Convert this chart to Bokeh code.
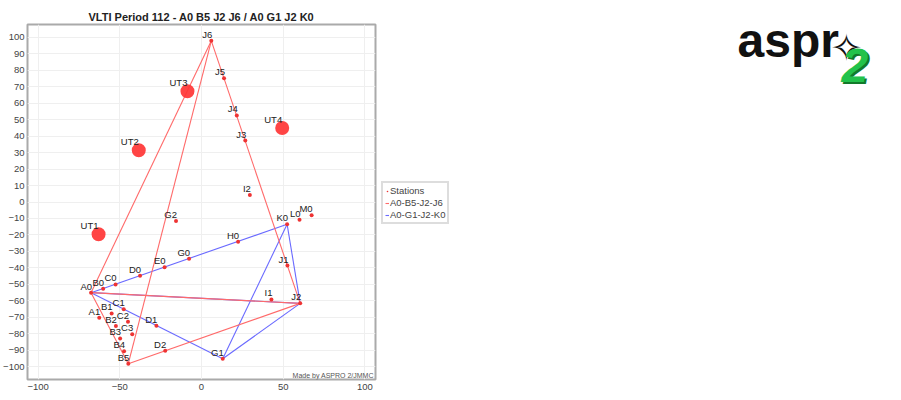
from bokeh.plotting import figure
from bokeh.layouts import row
from bokeh.models import ColumnDataSource, FixedTicker, Legend, LegendItem, Label, Range1d
from bokeh.embed import file_html
from bokeh.resources import INLINE
from bokeh.core.properties import value

# ---------------- data ----------------
title_text = "VLTI Period 112 - A0 B5 J2 J6 / A0 G1 J2 K0"

station_names = ["A0", "A1", "B0", "B1", "B2", "B3", "B4", "B5", "C0", "C1", "C2", "C3",
                 "D0", "D1", "D2", "E0", "G0", "G1", "G2", "H0", "I1", "I2",
                 "J1", "J2", "J3", "J4", "J5", "J6", "K0", "L0", "M0"]
station_x = [-67.6, -62.6, -60.2, -55.0, -52.4, -49.8, -47.4, -44.8, -52.6, -47.6, -45.0, -42.4,
             -37.6, -27.6, -22.2, -22.6, -7.6, 13.0, -15.6, 22.4, 42.8, 29.6,
             52.6, 60.4, 26.8, 21.6, 13.8, 6.0, 52.4, 60.0, 67.4]
station_y = [-55.0, -70.2, -52.6, -67.6, -75.3, -82.8, -90.5, -98.1, -50.0, -65.1, -72.6, -80.3,
             -44.7, -75.1, -90.2, -39.6, -34.4, -95.1, -11.5, -24.1, -59.1, 4.3,
             -38.6, -61.5, 37.3, 52.5, 75.1, 97.8, -13.5, -10.7, -8.1]

ut_names = ["UT1", "UT2", "UT3", "UT4"]
ut_x = [-63.0, -38.4, -8.6, 49.4]
ut_y = [-19.6, 31.4, 67.2, 44.9]

config_names = ["A0-B5-J2-J6", "A0-G1-J2-K0"]
config_stations = [["A0", "B5", "J2", "J6"], ["A0", "G1", "J2", "K0"]]
config_colors = ["#ff6a6a", "#6a6aff"]

x_ticks = [-100, -50, 0, 50, 100]
y_ticks = [-100, -90, -80, -70, -60, -50, -40, -30, -20, -10, 0, 10, 20, 30, 40, 50, 60, 70, 80, 90, 100]

credit_text = "Made by ASPRO 2/JMMC"
legend_stations = "Stations"
logo_word = "aspr"
logo_star = "\u2727"
logo_digit = "2"

# ---------------- layout constants ----------------
FONT = "Liberation Sans"
FW, FH = 355, 355                     # frame size in px
BL, BT, BB, BR = 20, 24, 18, 3        # borders of the chart figure
W1, H = BL + FW + BR, BT + FH + BB
W2 = 885 - W1                         # side figure (legend + logo)
PAGE_X0 = 8 + W1 - 6                  # measured page x of the side figure's frame
SIDE_FH = H - 20                      # measured frame height of the side figure
X0, X1 = -106.5, 106.5
Y0, Y1 = -107.7, 107.7

# ---------------- chart figure ----------------
p = figure(width=W1, height=H,
           x_range=Range1d(X0, X1), y_range=Range1d(Y0, Y1),
           output_backend="svg", toolbar_location=None,
           min_border_left=BL, min_border_top=BT, min_border_bottom=BB, min_border_right=BR,
           title=title_text, background_fill_color="white", border_fill_color="white")

p.title.text_font = FONT
p.title.text_font_size = "11px"
p.title.text_font_style = "bold"
p.title.text_color = "#222222"
p.title.align = "center"
p.title.standoff = 3

p.outline_line_color = "#aaaaaa"
p.outline_line_width = 2

for ax in (p.xaxis, p.yaxis):
    ax.major_label_text_font = FONT
    ax.major_label_text_font_size = "9.5px"
    ax.major_label_text_color = "#444444"
    ax.axis_line_color = None
    ax.major_tick_line_color = None
    ax.minor_tick_line_color = None
    ax.major_tick_out = 0
    ax.major_tick_in = 0
    ax.minor_tick_out = 0
    ax.minor_tick_in = 0
    ax.major_label_standoff = 3
p.xaxis.major_label_standoff = 4
p.xaxis.ticker = FixedTicker(ticks=x_ticks)
p.yaxis.ticker = FixedTicker(ticks=y_ticks)
p.xgrid.ticker = FixedTicker(ticks=x_ticks)
p.ygrid.ticker = FixedTicker(ticks=y_ticks)
p.grid.grid_line_color = "#efefef"
p.grid.grid_line_width = 1

# baselines (all pairs of stations of each configuration)
pos = {n: (x, y) for n, x, y in zip(station_names, station_x, station_y)}
for name, stations, color in reversed(list(zip(config_names, config_stations, config_colors))):
    xs, ys = [], []
    for i in range(len(stations)):
        for j in range(i + 1, len(stations)):
            a, b = pos[stations[i]], pos[stations[j]]
            xs.append([a[0], b[0]])
            ys.append([a[1], b[1]])
    p.multi_line(xs, ys, line_color=color, line_width=1.1)

# UT telescopes
ut_src = ColumnDataSource(dict(x=ut_x, y=ut_y, name=ut_names))
p.scatter("x", "y", source=ut_src, size=14, fill_color="#ff3535", line_color=None, fill_alpha=0.92)

# stations
st_src = ColumnDataSource(dict(x=station_x, y=station_y, name=station_names))
p.scatter("x", "y", source=st_src, size=4, fill_color="#ee3333", line_color=None)

label_kw = dict(text="name", text_font=value(FONT), text_font_size="9.5px", text_color="#222222",
                text_align="right", text_baseline="bottom")
p.text("x", "y", source=st_src, x_offset=1, y_offset=-1, **label_kw)
p.text("x", "y", source=ut_src, x_offset=0, y_offset=-3, **label_kw)

p.add_layout(Label(x=105.5, y=-107.2, text=credit_text, text_align="right", text_baseline="bottom",
                   text_font=FONT, text_font_size="7px", text_color="#555555"))

# ---------------- side figure: legend + logo (pixel coordinates, y downward) ----------------
side = figure(width=W2, height=H, x_range=Range1d(0, W2), y_range=Range1d(SIDE_FH, 0),
              output_backend="svg", toolbar_location=None,
              x_axis_location=None, y_axis_location=None, min_border=0,
              outline_line_color=None, background_fill_color="white", border_fill_color="white")
side.grid.visible = False

# legend proxies (same styles as the chart; NaN data so nothing is drawn in the plot area)
nan = float("nan")
leg_st = side.scatter(x=[nan], y=[nan], size=4, fill_color="#ee3333", line_color=None)
leg_lines = [side.multi_line(xs=[[nan, nan]], ys=[[nan, nan]], line_color=c, line_width=1.1)
             for c in config_colors]

legend = Legend(items=[LegendItem(label=legend_stations, renderers=[leg_st])] +
                [LegendItem(label=n, renderers=[r]) for n, r in zip(config_names, leg_lines)],
                location=(383 - PAGE_X0, SIDE_FH - 222), orientation="vertical")
legend.label_text_font = FONT
legend.label_text_font_size = "9.5px"
legend.label_text_color = "#444444"
legend.glyph_width = 4
legend.glyph_height = 10
legend.label_height = 10
legend.label_standoff = 1
legend.spacing = 1
legend.padding = 2
legend.margin = 0
legend.border_line_color = "#bbbbbb"
legend.border_line_width = 2
legend.background_fill_color = "white"
side.add_layout(legend)

# logo (positions are page pixels; alphabetic-baseline labels measured to sit ~0.75 em lower)
side.add_layout(Label(x=739 - PAGE_X0, y=52.5 - 36, text=logo_word, text_font=FONT, text_font_style="bold",
                      text_font_size="48px", text_color="#111111", text_baseline="alphabetic"))
side.add_layout(Label(x=848 - PAGE_X0, y=24.5, text=logo_star, text_font="DejaVu Sans", text_font_size="38px",
                      text_color="#111111", text_align="center", text_baseline="alphabetic"))
side.add_layout(Label(x=845 - PAGE_X0, y=83.5 - 37.5, text=logo_digit, text_font=FONT,
                      text_font_style="bold italic", text_font_size="48px", text_color="#127a2a",
                      text_baseline="alphabetic"))
side.add_layout(Label(x=843 - PAGE_X0, y=81.5 - 37.5, text=logo_digit, text_font=FONT,
                      text_font_style="bold italic", text_font_size="48px", text_color="#22c24b",
                      text_baseline="alphabetic"))

open("out.html", "w").write(file_html(row(p, side), INLINE))
